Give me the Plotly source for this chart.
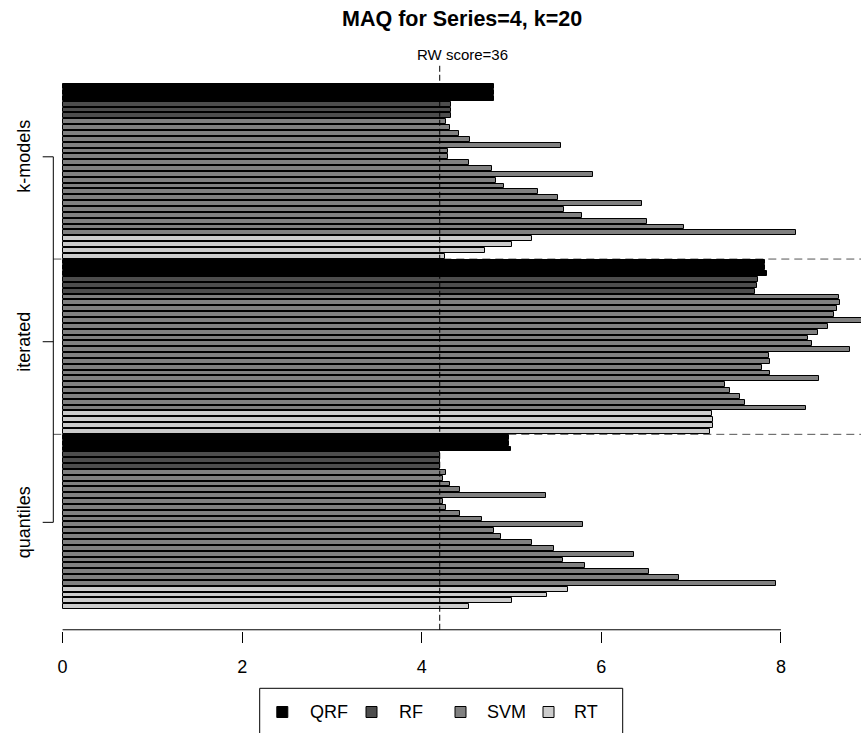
import plotly.graph_objects as go

# ---------------- data (top-to-bottom order inside each group) ----------------
groups = ["quantiles", "iterated", "k-models"]          # bottom -> top
models = ["QRF", "RF", "SVM", "RT"]
model_colors = {"QRF": "#000000", "RF": "#4d4d4d", "SVM": "#808080", "RT": "#cccccc"}

kmodels_qrf = [4.81, 4.81, 4.81]
kmodels_rf = [4.33, 4.33, 4.33]
kmodels_svm = [4.27, 4.31, 4.42, 4.54, 5.55, 4.29, 4.29, 4.53, 4.78, 5.91,
               4.83, 4.92, 5.30, 5.52, 6.45, 5.58, 5.79, 6.51, 6.92, 8.17]
kmodels_rt = [5.23, 5.01, 4.70, 4.26]

iterated_qrf = [7.82, 7.82, 7.84]
iterated_rf = [7.74, 7.73, 7.71]
iterated_svm = [8.65, 8.66, 8.62, 8.59, 9.05, 8.52, 8.41, 8.30, 8.35, 8.77,
                7.87, 7.88, 7.79, 7.88, 8.42, 7.38, 7.43, 7.54, 7.60, 8.28]
iterated_rt = [7.23, 7.24, 7.24, 7.21]

quantiles_qrf = [4.97, 4.97, 4.99]
quantiles_rf = [4.20, 4.20, 4.20]
quantiles_svm = [4.27, 4.24, 4.32, 4.43, 5.38, 4.24, 4.27, 4.43, 4.67, 5.80,
                 4.80, 4.88, 5.23, 5.47, 6.36, 5.57, 5.82, 6.53, 6.86, 7.95]
quantiles_rt = [5.63, 5.39, 5.00, 4.53]

rw_score = 4.2
rw_label = "RW score=36"
title_text = "MAQ for Series=4, k=20"
x_ticks = [0, 2, 4, 6, 8]

data = {
    "quantiles": {"QRF": quantiles_qrf, "RF": quantiles_rf, "SVM": quantiles_svm, "RT": quantiles_rt},
    "iterated": {"QRF": iterated_qrf, "RF": iterated_rf, "SVM": iterated_svm, "RT": iterated_rt},
    "k-models": {"QRF": kmodels_qrf, "RF": kmodels_rf, "SVM": kmodels_svm, "RT": kmodels_rt},
}

# ---------------- build bar positions ----------------
FONT = "Liberation Sans, Arial, Helvetica, sans-serif"
traces = {m: {"x": [], "y": []} for m in models}
group_size = {}
offset = 0
group_bounds = []
for g in groups:
    rows = []
    for m in models:
        for v in data[g][m]:
            rows.append((m, v))
    n = len(rows)
    group_size[g] = n
    for i, (m, v) in enumerate(rows):
        traces[m]["x"].append(v)
        traces[m]["y"].append(offset + n - i)
    group_bounds.append(offset + n + 0.5)
    offset += n

fig = go.Figure()
for m in models:
    fig.add_trace(go.Bar(
        x=traces[m]["x"], y=traces[m]["y"], orientation="h", name=m,
        width=0.83, marker=dict(color=model_colors[m], line=dict(color="black", width=1)),
        showlegend=False, hoverinfo="x+name",
    ))

# ---------------- geometry ----------------
W, H = 861, 733
L, R, T, B = 40, 0, 62, 102
XR = [-0.2517, 8.8919]
YR = [-3.16, 94.227]
plot_w = W - L - R
plot_h = H - T - B

def px_x(px):  # paper x from pixel
    return (px - L) / plot_w

def px_y(py):  # paper y from pixel
    return (H - B - py) / plot_h

shapes = []
# group separators (dashed)
for yb in group_bounds[:-1]:
    shapes.append(dict(type="line", xref="x", yref="y", x0=-0.1036, x1=XR[1], y0=yb, y1=yb,
                       line=dict(color="#555555", width=1, dash="8px,5px"), layer="below"))
# RW score vertical line
shapes.append(dict(type="line", xref="x", yref="y", x0=rw_score, x1=rw_score, y0=-2.95, y1=93.7,
                   line=dict(color="black", width=1, dash="6px,3px"), layer="above"))
# x axis line from 0 to 8
shapes.append(dict(type="line", xref="x", yref="y", x0=x_ticks[0], x1=x_ticks[-1], y0=-2.95, y1=-2.95,
                   line=dict(color="black", width=1)))

# y-axis bracket
label_pos = {"k-models": 78.0, "iterated": 46.35, "quantiles": 15.44}
yb_top, yb_bot = label_pos["k-models"], label_pos["quantiles"]
shapes.append(dict(type="line", xref="x", yref="y", x0=-0.1036, x1=-0.1036, y0=yb_bot, y1=yb_top,
                   line=dict(color="black", width=1)))
for g in groups:
    shapes.append(dict(type="line", xref="x", yref="y", x0=-0.2216, x1=-0.1036,
                       y0=label_pos[g], y1=label_pos[g], line=dict(color="black", width=1)))

annotations = []
for g in groups:
    annotations.append(dict(text=g, xref="paper", yref="y", x=px_x(24), y=label_pos[g],
                            textangle=-90, showarrow=False, xanchor="center", yanchor="middle",
                            font=dict(family=FONT, size=18, color="black")))

# title and RW label
annotations.append(dict(text="<b>" + title_text + "</b>", xref="paper", yref="paper",
                        x=px_x(462), y=px_y(19), showarrow=False, xanchor="center", yanchor="middle",
                        font=dict(family=FONT, size=21.5, color="black")))
annotations.append(dict(text=rw_label, xref="paper", yref="paper",
                        x=px_x(462), y=px_y(54), showarrow=False, xanchor="center", yanchor="middle",
                        font=dict(family=FONT, size=15, color="black")))

# manual legend
shapes.append(dict(type="rect", xref="paper", yref="paper", x0=px_x(259.7), x1=px_x(622.7),
                   y0=px_y(760), y1=px_y(688.3), line=dict(color="black", width=1), fillcolor="rgba(0,0,0,0)"))
leg_sq_cx = [282.3, 371.5, 460.5, 548.5]
leg_txt_x = [307.7, 396.7, 485.0, 572.0]
for m, cx, tx in zip(models, leg_sq_cx, leg_txt_x):
    shapes.append(dict(type="rect", xref="paper", yref="paper", x0=px_x(cx - 5.5), x1=px_x(cx + 5.5),
                       y0=px_y(717.5), y1=px_y(706.5), fillcolor=model_colors[m],
                       line=dict(color="black", width=1)))
    annotations.append(dict(text=m, xref="paper", yref="paper", x=px_x(tx), y=px_y(712),
                            showarrow=False, xanchor="left", yanchor="middle",
                            font=dict(family=FONT, size=18, color="black")))

fig.update_layout(
    width=W, height=H, margin=dict(l=L, r=R, t=T, b=B, pad=0),
    paper_bgcolor="white", plot_bgcolor="white",
    barmode="overlay", bargap=0,
    shapes=shapes, annotations=annotations,
    font=dict(family=FONT, size=18, color="black"),
    xaxis=dict(range=XR, tickvals=x_ticks, ticktext=[str(t) for t in x_ticks],
               ticks="outside", ticklen=11, tickcolor="black", tickwidth=1,
               showline=False, showgrid=False, zeroline=False,
               tickfont=dict(family=FONT, size=18, color="black"), ticklabelstandoff=8),
    yaxis=dict(range=YR, visible=False, showgrid=False, zeroline=False),
)

fig.write_html("out.html")
